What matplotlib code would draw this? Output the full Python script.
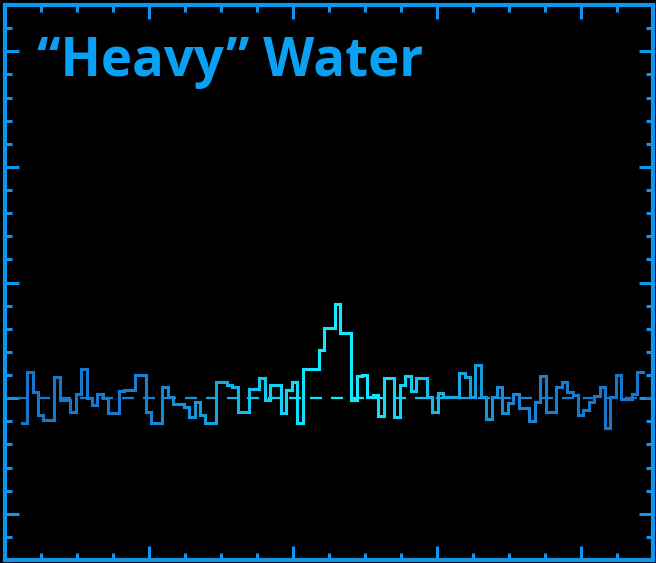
import numpy as np
import matplotlib
matplotlib.use("Agg")
import matplotlib.pyplot as plt
from matplotlib.collections import LineCollection
from matplotlib.colors import to_rgb
from matplotlib.ticker import MultipleLocator

# Spectrum: flux density per channel (arbitrary units, 1 unit = one minor tick)
flux = [
    -1.08, 1.13, 0.27, -0.73, -0.95, -0.95, 0.92, -0.09, -0.09, -0.59,
    0.20, 1.28, 0.00, -0.30, 0.20, 0.00, -0.66, -0.66, 0.30, 0.37,
    0.37, 0.99, 0.99, -0.59, -1.06, -1.06, 0.47, 0.06, -0.26, -0.26,
    -0.40, -0.80, -0.16, -0.73, -1.08, -1.08, 0.70, 0.70, 0.56, 0.46,
    -0.59, -0.59, 0.39, 0.39, 0.85, -0.09, 0.56, 0.56, -0.63, 0.34,
    0.70, -1.09, 1.25, 1.25, 1.25, 2.07, 3.05, 3.05, 4.08, 2.80,
    2.80, -0.09, 0.95, 1.00, 0.03, 0.13, -0.78, 0.89, 0.89, -0.80,
    0.56, 0.95, 0.30, 0.85, 0.85, 0.06, -0.59, 0.23, 0.06, 0.06,
    0.06, 1.09, 0.92, 0.06, 1.42, 0.03, -0.92, 0.06, 0.50, -0.66,
    -0.23, 0.20, -0.44, -0.44, -1.00, -0.16, 0.95, -0.59, -0.59, 0.47,
    0.70, 0.27, 0.13, -0.73, -0.52, -0.16, 0.10, 0.49, -1.30, 0.06,
    1.00, -0.05, -0.05, 0.20, 1.13,
]
chan_start = 0.467    # velocity of the first channel's lower edge (tick units)
chan_width = 0.15     # channel width (tick units)
line_centre = 9.3     # velocity of the line centre, used for the colour ramp

title = "\u201cHeavy\u201d Water"

frame_color = "#0c96ee"
title_color = "#0aa0f4"
wing_color = "#1776cc"
core_color = "#12eaff"

xlim = (0, 18)
ylim = (-7, 17)


def ramp(x):
    """Blend from the wing colour to the core colour near the line centre."""
    t = np.exp(-((np.asarray(x) - line_centre) / 3.6) ** 2)
    a = np.array(to_rgb(wing_color))
    b = np.array(to_rgb(core_color))
    return (1 - t)[:, None] * a + t[:, None] * b


fig = plt.figure(figsize=(6.56, 5.63), dpi=100, facecolor="black")
ax = fig.add_axes([5 / 656, 3 / 563, 648 / 656, 555 / 563])
ax.set_facecolor("black")
ax.set_xlim(*xlim)
ax.set_ylim(*ylim)

# Step outline of the spectrum
vals = np.asarray(flux)
edges = chan_start + chan_width * np.arange(len(vals) + 1)
xs = np.repeat(edges, 2)[1:-1]
ys = np.repeat(vals, 2)
pts = np.column_stack([xs, ys])
segs = np.stack([pts[:-1], pts[1:]], axis=1)
mids = segs[:, :, 0].mean(axis=1)
step = LineCollection(segs, colors=ramp(mids), linewidths=2.2,
                      capstyle="projecting", joinstyle="miter", zorder=3)
ax.add_collection(step)

# Dashed zero baseline, coloured with the same ramp
period, dash = 0.583, 0.333
starts = np.arange(-0.26, xlim[1], period)
dsegs = [[(s, 0), (s + dash, 0)] for s in starts]
base = LineCollection(dsegs, colors=ramp(starts + dash / 2), linewidths=1.6,
                      capstyle="butt", zorder=2)
ax.add_collection(base)

# Frame and inward ticks on all sides
for sp in ax.spines.values():
    sp.set_color(frame_color)
    sp.set_linewidth(3.0)
ax.xaxis.set_major_locator(MultipleLocator(4))
ax.xaxis.set_minor_locator(MultipleLocator(1))
ax.yaxis.set_major_locator(MultipleLocator(5))
ax.yaxis.set_minor_locator(MultipleLocator(1))
ax.tick_params(which="both", direction="in", top=True, right=True,
               labelbottom=False, labelleft=False, color=frame_color,
               width=2.2)
ax.tick_params(which="major", length=10)
ax.tick_params(which="minor", length=5)

ax.text(0.049, 0.872, title, transform=ax.transAxes, color=title_color,
        fontsize=38, fontweight="bold", family=["Open Sans", "DejaVu Sans"],
        ha="left", va="baseline")

fig.savefig("out.png", dpi=100, facecolor="black")
